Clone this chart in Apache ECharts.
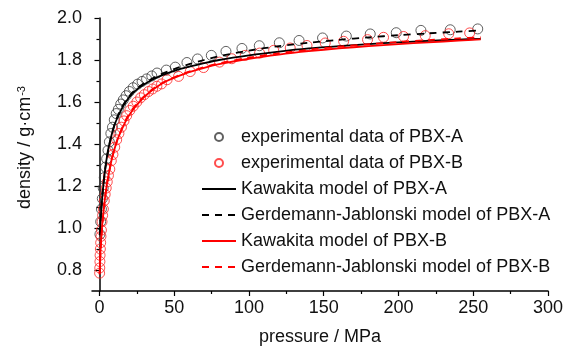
<!DOCTYPE html>
<html>
<head>
<meta charset="utf-8">
<script src="https://cdn.jsdelivr.net/npm/echarts@6/dist/echarts.min.js"></script>
<style>
  html, body { margin: 0; padding: 0; background: #fff; }
  #chart { width: 571px; height: 347px; }
</style>
</head>
<body>
<div id="chart"></div>
<script>
// experimental data, [pressure MPa, density g/cm3]
var expA = [
  [0.3, 0.97], [0.8, 1.03], [1.3, 1.09], [1.9, 1.14], [2.5, 1.19], [3.2, 1.24],
  [4.0, 1.29], [4.8, 1.33], [5.7, 1.37], [6.6, 1.41], [7.6, 1.45], [8.7, 1.48],
  [9.9, 1.515], [11.2, 1.545], [12.6, 1.565], [14.2, 1.59], [15.9, 1.61], [17.8, 1.63],
  [20.0, 1.65], [22.5, 1.668], [25.5, 1.685], [28.5, 1.698], [31.5, 1.71], [35, 1.724],
  [38.5, 1.738], [44.7, 1.752], [50.7, 1.766], [58.5, 1.788], [65.6, 1.805], [74.8, 1.822],
  [84.6, 1.841], [95.3, 1.855], [106.9, 1.868], [120.3, 1.882], [133.5, 1.893], [149.2, 1.905],
  [165.1, 1.914], [181.1, 1.924], [198.5, 1.93], [215, 1.941], [234.6, 1.944], [253, 1.948]
];
var expB = [
  [0.1, 0.785], [0.2, 0.81], [0.3, 0.84], [0.4, 0.87], [0.6, 0.9], [0.8, 0.93],
  [1.0, 0.96], [1.3, 0.99], [1.7, 1.03], [2.1, 1.06], [2.6, 1.09], [3.2, 1.13],
  [3.8, 1.16], [4.5, 1.19], [5.2, 1.22], [6.0, 1.25], [6.9, 1.28], [7.9, 1.32],
  [9.0, 1.35], [10.2, 1.385], [11.5, 1.42], [13.0, 1.45], [14.7, 1.48], [16.4, 1.51],
  [18.2, 1.535], [20.3, 1.56], [22.6, 1.58], [25, 1.6], [27.5, 1.62], [30, 1.635],
  [32.8, 1.65], [35.5, 1.662], [38.4, 1.675], [41.5, 1.686], [45.2, 1.706], [52.9, 1.722],
  [60.7, 1.745], [69.6, 1.764], [80.3, 1.79], [88.5, 1.806], [97.5, 1.822], [107.1, 1.833],
  [116.5, 1.846], [127.6, 1.857], [138.8, 1.869], [151, 1.881], [163.3, 1.889], [179.3, 1.897],
  [190, 1.908], [203.4, 1.912], [217.9, 1.916], [233.6, 1.925], [247.6, 1.929]
];

// fitted curves
var kawA = [
  [0.3, 0.965], [1, 1.06], [2, 1.16], [3, 1.23], [4, 1.29], [5, 1.34], [6, 1.38],
  [8, 1.44], [10, 1.49], [12, 1.525], [15, 1.57], [18, 1.605], [22, 1.64], [26, 1.665],
  [30, 1.685], [35, 1.705], [40, 1.722], [50, 1.748], [60, 1.768], [70, 1.785], [80, 1.8],
  [100, 1.822], [120, 1.84], [140, 1.855], [160, 1.866], [180, 1.876], [200, 1.884],
  [220, 1.891], [240, 1.897], [255, 1.901]
];
var gjA = [
  [0.3, 0.97], [1, 1.07], [2, 1.16], [3, 1.23], [4, 1.29], [5, 1.335], [6, 1.375],
  [8, 1.44], [10, 1.49], [12, 1.53], [15, 1.575], [18, 1.61], [22, 1.645], [26, 1.67],
  [30, 1.69], [35, 1.71], [40, 1.728], [50, 1.757], [60, 1.78], [70, 1.8], [80, 1.818],
  [100, 1.845], [120, 1.866], [140, 1.882], [160, 1.896], [180, 1.908], [200, 1.918],
  [220, 1.927], [240, 1.935], [255, 1.941]
];
var kawB = [
  [0.1, 0.78], [0.5, 0.86], [1, 0.93], [2, 1.03], [3, 1.1], [4, 1.16], [5, 1.21],
  [6, 1.25], [8, 1.32], [10, 1.375], [12, 1.42], [15, 1.47], [18, 1.515], [22, 1.56],
  [26, 1.595], [30, 1.625], [35, 1.655], [40, 1.68], [45, 1.7], [50, 1.715], [60, 1.742],
  [70, 1.763], [80, 1.78], [100, 1.806], [120, 1.826], [140, 1.842], [160, 1.855],
  [180, 1.866], [200, 1.876], [220, 1.884], [240, 1.892], [255, 1.898]
];
var gjB = [
  [0.1, 0.78], [0.5, 0.85], [1, 0.92], [2, 1.02], [3, 1.095], [4, 1.155], [5, 1.205],
  [6, 1.25], [8, 1.32], [10, 1.375], [12, 1.42], [15, 1.475], [18, 1.52], [22, 1.565],
  [26, 1.6], [30, 1.628], [35, 1.658], [40, 1.683], [45, 1.702], [50, 1.718], [60, 1.745],
  [70, 1.766], [80, 1.784], [100, 1.811], [120, 1.832], [140, 1.849], [160, 1.863],
  [180, 1.875], [200, 1.886], [220, 1.895], [240, 1.903], [255, 1.908]
];

var xTicks = [0, 50, 100, 150, 200, 250, 300];
var xMinorTicks = [25, 75, 125, 175, 225, 275];
var yTicks = [0.8, 1.0, 1.2, 1.4, 1.6, 1.8, 2.0];
var yMinorTicks = [0.9, 1.1, 1.3, 1.5, 1.7, 1.9];

var names = [
  'experimental data of PBX-A',
  'experimental data of PBX-B',
  'Kawakita model of PBX-A',
  'Gerdemann-Jablonski model of PBX-A',
  'Kawakita model of PBX-B',
  'Gerdemann-Jablonski model of PBX-B'
];

var font = '"Liberation Sans", Arial, sans-serif';
var chart = echarts.init(document.getElementById('chart'));

var option = {
  backgroundColor: '#fff',
  animation: false,
  textStyle: { fontFamily: font },
  grid: { left: 92, right: 23, top: 18, bottom: 56, outerBoundsMode: 'none' },
  legend: {
    data: names,
    orient: 'vertical',
    left: 196,
    top: 123,
    itemWidth: 34,
    itemHeight: 8,
    itemGap: 8,
    textStyle: { fontSize: 18, color: '#111', fontFamily: font }
  },
  xAxis: [
    {
      type: 'value', min: -5, max: 300,
      name: 'pressure / MPa', nameLocation: 'middle', nameGap: 37,
      nameTextStyle: { fontSize: 18, color: '#111', fontFamily: font },
      axisLine: { lineStyle: { color: '#000', width: 1.5 } },
      axisTick: { length: 5, customValues: xTicks, lineStyle: { color: '#000', width: 1.2 } },
      axisLabel: { customValues: xTicks, fontSize: 18, color: '#111', margin: 8, fontFamily: font },
      splitLine: { show: false }
    },
    {
      type: 'value', min: -5, max: 300, position: 'bottom',
      axisLine: { show: false },
      axisTick: { length: 3, customValues: xMinorTicks, lineStyle: { color: '#000', width: 1.2 } },
      axisLabel: { show: false },
      splitLine: { show: false }
    }
  ],
  yAxis: [
    {
      type: 'value', min: 0.7, max: 2.0,
      name: '{a|density / g·cm}{s|-3}', nameLocation: 'middle', nameGap: 58,
      nameTextStyle: {
        color: '#111', fontFamily: font, padding: [0, 0, 0, 14],
        rich: {
          a: { fontSize: 18, fontFamily: font, color: '#111' },
          s: { fontSize: 11, fontFamily: font, color: '#111', verticalAlign: 'top', padding: [0, 0, 7, 1] }
        }
      },
      axisLine: { show: true, lineStyle: { color: '#000', width: 1.5 } },
      axisTick: { show: true, length: 5, customValues: yTicks, lineStyle: { color: '#000', width: 1.2 } },
      axisLabel: {
        customValues: yTicks, fontSize: 18, color: '#111', margin: 10, fontFamily: font,
        formatter: function (v) { return v.toFixed(1); }
      },
      splitLine: { show: false }
    },
    {
      type: 'value', min: 0.7, max: 2.0, position: 'left',
      axisLine: { show: false },
      axisTick: { show: true, length: 3, customValues: yMinorTicks, lineStyle: { color: '#000', width: 1.2 } },
      axisLabel: { show: false },
      splitLine: { show: false }
    }
  ],
  series: [
    {
      name: names[0], type: 'scatter', data: expA, symbol: 'circle', symbolSize: 10,
      itemStyle: { color: 'rgba(0,0,0,0)', borderColor: '#3a3a3a', borderWidth: 1 }
    },
    {
      name: names[1], type: 'scatter', data: expB, symbol: 'circle', symbolSize: 10,
      itemStyle: { color: 'rgba(0,0,0,0)', borderColor: '#ff2020', borderWidth: 1 }
    },
    {
      name: names[2], type: 'line', data: kawA, showSymbol: false, symbol: 'none', smooth: 0.3,
      itemStyle: { color: 'rgba(0,0,0,0)', borderWidth: 0 },
      lineStyle: { color: '#000', width: 1.8 }
    },
    {
      name: names[3], type: 'line', data: gjA, showSymbol: false, symbol: 'none', smooth: 0.3,
      itemStyle: { color: 'rgba(0,0,0,0)', borderWidth: 0 },
      lineStyle: { color: '#000', width: 1.8, type: [7, 6] }
    },
    {
      name: names[4], type: 'line', data: kawB, showSymbol: false, symbol: 'none', smooth: 0.3,
      itemStyle: { color: 'rgba(0,0,0,0)', borderWidth: 0 },
      lineStyle: { color: '#ff0000', width: 1.8 }
    },
    {
      name: names[5], type: 'line', data: gjB, showSymbol: false, symbol: 'none', smooth: 0.3,
      itemStyle: { color: 'rgba(0,0,0,0)', borderWidth: 0 },
      lineStyle: { color: '#ff0000', width: 1.8, type: [7, 6] }
    }
  ]
};

chart.setOption(option);
</script>
</body>
</html>
